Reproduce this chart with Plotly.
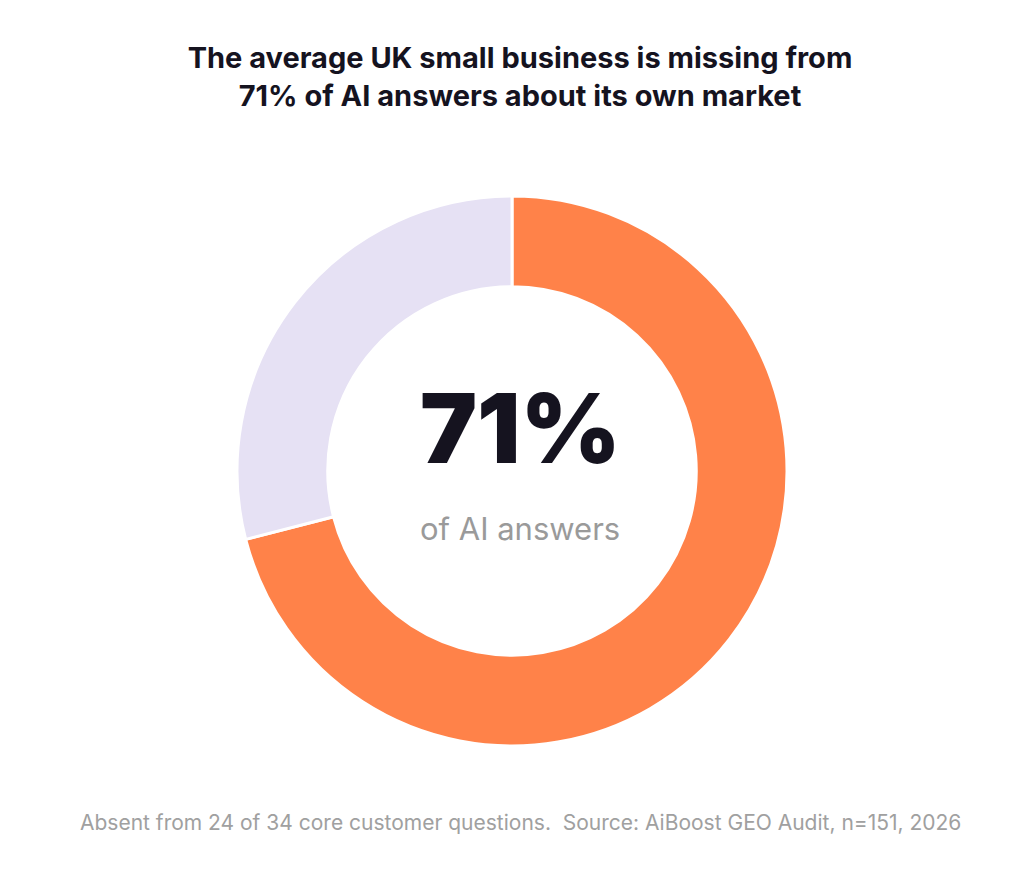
import plotly.graph_objects as go

labels = ["Missing from AI answers", "Present in AI answers"]
values = [71, 29]
colors = ["#FF8249", "#E6E1F4"]
headline = "71%"

fig = go.Figure(go.Pie(
    labels=labels, values=values, hole=0.67, sort=False, direction="clockwise",
    rotation=0, marker=dict(colors=colors, line=dict(color="white", width=3)),
    textinfo="none", hoverinfo="label+percent", showlegend=False,
    domain=dict(x=[0.2236, 0.7608], y=[0.1508, 0.7837]),
))
fig.add_annotation(x=0.5, y=1 - 420 / 869, xref="paper", yref="paper", showarrow=False,
                   text=headline, font=dict(size=96, color="#15131F", family="Inter", weight=900))
fig.add_annotation(x=0.5, y=1 - 520 / 869, xref="paper", yref="paper", showarrow=False,
                   text="of AI answers", font=dict(size=31, color="#9A9A9A", family="Inter"))
fig.add_annotation(x=0.5, y=1 - 829 / 869, xref="paper", yref="paper", showarrow=False,
                   text="Absent from 24 of 34 core customer questions.  Source: AiBoost GEO Audit, n=151, 2026",
                   font=dict(size=21, color="#A0A0A0", family="Inter"))
fig.update_layout(
    width=1024, height=869, margin=dict(l=0, r=0, t=0, b=0),
    paper_bgcolor="white", plot_bgcolor="white",
    title=dict(text="<b>The average UK small business is missing from<br>71% of AI answers about its own market</b>",
               x=0.5, xanchor="center", y=1 - 60 / 869, yanchor="middle",
               font=dict(size=29, color="#15131F", family="Inter")),
)
fig.write_html("out.html")
